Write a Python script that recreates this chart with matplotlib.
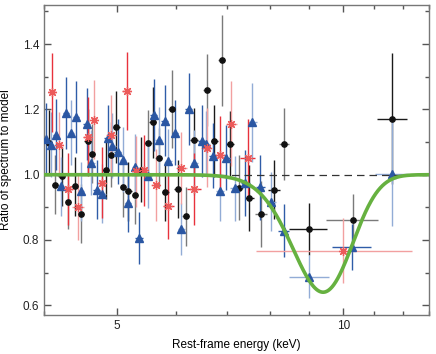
import numpy as np
import matplotlib
matplotlib.use("Agg")
import matplotlib.pyplot as plt
from matplotlib.ticker import FixedLocator, NullFormatter, MultipleLocator

plt.rcParams['font.family'] = ['Liberation Sans', 'DejaVu Sans']

# black circles
blk_e = [4.06, 4.14, 4.22, 4.31, 4.40, 4.48, 4.57, 4.63, 4.83, 4.91, 4.99, 5.09,
         5.18, 5.29, 5.39, 5.50, 5.58, 5.68, 5.80, 5.91, 6.02, 6.17, 6.33, 6.59,
         6.74, 6.89, 7.07, 7.26, 7.50, 7.78, 8.08, 8.35, 8.99, 10.31, 11.61]
blk_r = [1.098, 0.969, 0.995, 0.915, 0.964, 0.880, 1.102, 1.064, 1.015, 1.061, 1.145, 0.961,
         0.949, 0.939, 1.015, 1.098, 1.160, 1.052, 0.948, 1.202, 0.956, 0.872, 1.105, 1.259,
         1.104, 1.350, 1.095, 0.960, 0.929, 0.880, 0.954, 1.095, 0.834, 0.862, 1.172]
blk_yerr = [0.10, 0.09, 0.09, 0.08, 0.09, 0.09, 0.10, 0.09, 0.09, 0.10, 0.11, 0.09,
            0.09, 0.09, 0.10, 0.10, 0.11, 0.09, 0.09, 0.12, 0.09, 0.09, 0.10, 0.11,
            0.11, 0.14, 0.10, 0.10, 0.10, 0.10, 0.09, 0.11, 0.08, 0.08, 0.20]
blk_xerr = [0.04, 0.04, 0.04, 0.04, 0.04, 0.04, 0.05, 0.05, 0.05, 0.05, 0.05, 0.05,
            0.05, 0.05, 0.05, 0.06, 0.06, 0.06, 0.06, 0.06, 0.07, 0.07, 0.07, 0.08,
            0.08, 0.08, 0.09, 0.09, 0.11, 0.14, 0.15, 0.13, 0.51, 0.82, 0.53]

# blue triangles
blu_e = [4.025, 4.09, 4.15, 4.21, 4.28, 4.34, 4.41, 4.48, 4.56, 4.62, 4.70, 4.78,
         4.86, 4.93, 5.01, 5.09, 5.17, 5.29, 5.35, 5.50, 5.60, 5.68, 5.79, 5.85,
         5.97, 6.09, 6.23, 6.34, 6.48, 6.56, 6.70, 6.85, 6.99, 7.17, 7.41, 7.57,
         7.76, 8.02, 8.33, 9.01, 10.27, 11.61]
blu_r = [1.110, 1.092, 1.123, 0.964, 1.190, 1.129, 1.178, 0.949, 1.156, 1.037, 0.954, 0.942,
         1.113, 1.089, 1.071, 1.046, 0.914, 1.025, 0.807, 0.997, 1.184, 1.107, 1.166, 1.041,
         1.129, 0.834, 1.202, 1.037, 1.104, 1.095, 1.058, 0.949, 1.052, 0.958, 0.975, 1.160,
         0.961, 0.917, 0.829, 0.688, 0.779, 1.003]
blu_yerr = [0.11, 0.10, 0.11, 0.09, 0.11, 0.10, 0.11, 0.09, 0.11, 0.10, 0.09, 0.09,
            0.10, 0.10, 0.10, 0.10, 0.09, 0.10, 0.08, 0.10, 0.11, 0.10, 0.11, 0.10,
            0.10, 0.08, 0.11, 0.10, 0.11, 0.10, 0.10, 0.09, 0.10, 0.10, 0.10, 0.12,
            0.10, 0.09, 0.08, 0.066, 0.07, 0.16]
blu_xerr = [0.04, 0.04, 0.04, 0.04, 0.04, 0.04, 0.04, 0.04, 0.05, 0.05, 0.05, 0.05,
            0.05, 0.05, 0.05, 0.05, 0.05, 0.05, 0.06, 0.06, 0.06, 0.06, 0.06, 0.06,
            0.06, 0.07, 0.07, 0.07, 0.07, 0.08, 0.08, 0.08, 0.09, 0.10, 0.10, 0.10,
            0.11, 0.12, 0.15, 0.55, 0.60, 0.58]

# red stars
red_e = [4.10, 4.19, 4.31, 4.44, 4.57, 4.66, 4.78, 4.91, 5.15, 5.30, 5.43, 5.63,
         5.85, 6.09, 6.33, 6.58, 6.85, 7.10, 7.46, 10.0]
red_r = [1.252, 1.092, 0.957, 0.900, 1.117, 1.169, 0.976, 1.123, 1.256, 1.010, 1.013, 0.969,
         0.903, 1.021, 0.956, 1.083, 1.061, 1.156, 1.052, 0.767]
red_yerr = [0.12, 0.10, 0.11, 0.10, 0.12, 0.12, 0.11, 0.12, 0.12, 0.11, 0.11, 0.11,
            0.10, 0.11, 0.11, 0.12, 0.12, 0.13, 0.12, 0.10]
red_xerr = [0.05, 0.05, 0.06, 0.08, 0.06, 0.06, 0.06, 0.07, 0.07, 0.07, 0.07, 0.08,
            0.10, 0.10, 0.13, 0.11, 0.12, 0.12, 0.18, 2.35]

# absorption line model
line_e0 = 9.40
line_sigma = 0.86
line_depth = 0.36


def draw_series(ax, e, r, xe, ye, dark, light, **mk):
    e, r, xe, ye = map(np.asarray, (e, r, xe, ye))
    # neighbouring bins alternate between a dark and a light error bar
    for sl, col in ((slice(0, None, 2), dark), (slice(1, None, 2), light)):
        ax.errorbar(e[sl], r[sl], xerr=xe[sl], yerr=ye[sl], fmt="none",
                    ecolor=col, elinewidth=1.0, capsize=0, zorder=2)
    ax.plot(e, r, linestyle="none", zorder=3, **mk)


fig = plt.figure(figsize=(4.36, 3.54), dpi=100)
ax = fig.add_axes([0.101, 0.110, 0.883, 0.876])

draw_series(ax, blk_e, blk_r, blk_xerr, blk_yerr, "#1a1a1a", "#7a7a7a",
            marker="o", ms=3.8, color="#111111")
draw_series(ax, blu_e, blu_r, blu_xerr, blu_yerr, "#2f5ca8", "#92acd6",
            marker="^", ms=6.0, color="#2b57a3")
draw_series(ax, red_e, red_r, red_xerr, red_yerr, "#e8323c", "#f2a0a0",
            marker=(8, 2, 0), ms=6.5, color="#ec5a5a", mew=0.9)

ax.axhline(1.0, color="#333333", lw=0.9, dashes=(6, 4), zorder=4)
grid = np.linspace(3.9, 13.2, 600)
model = 1 - line_depth * np.exp(-0.5 * ((grid - line_e0) / line_sigma) ** 2)
ax.plot(grid, model, color="#66b140", lw=2.6, zorder=5, solid_capstyle="round")

ax.set_xscale("log")
ax.set_xlim(4.0, 13.0)
ax.set_ylim(0.57, 1.52)
ax.xaxis.set_major_locator(FixedLocator([5, 10]))
ax.xaxis.set_minor_locator(FixedLocator([4, 6, 7, 8, 9, 11, 12, 13]))
ax.xaxis.set_major_formatter(plt.FuncFormatter(lambda v, p: f"{v:g}"))
ax.xaxis.set_minor_formatter(NullFormatter())
ax.yaxis.set_major_locator(MultipleLocator(0.2))
ax.yaxis.set_minor_locator(MultipleLocator(0.1))
ax.yaxis.set_major_formatter(plt.FuncFormatter(lambda v, p: f"{v:.1f}"))

ax.tick_params(which="both", direction="in", top=True, right=True,
               colors="#555555", labelcolor="#222222", labelsize=8.5)
ax.tick_params(which="major", length=5, width=1)
ax.tick_params(which="minor", length=3, width=1)
for s in ax.spines.values():
    s.set_color("#777777")
    s.set_linewidth(1.0)

ax.set_xlabel("Rest-frame energy (keV)", fontsize=8.5, labelpad=5)
ax.set_ylabel("Ratio of spectrum to model", fontsize=8.5, labelpad=8)

fig.savefig("out.png", dpi=100)
